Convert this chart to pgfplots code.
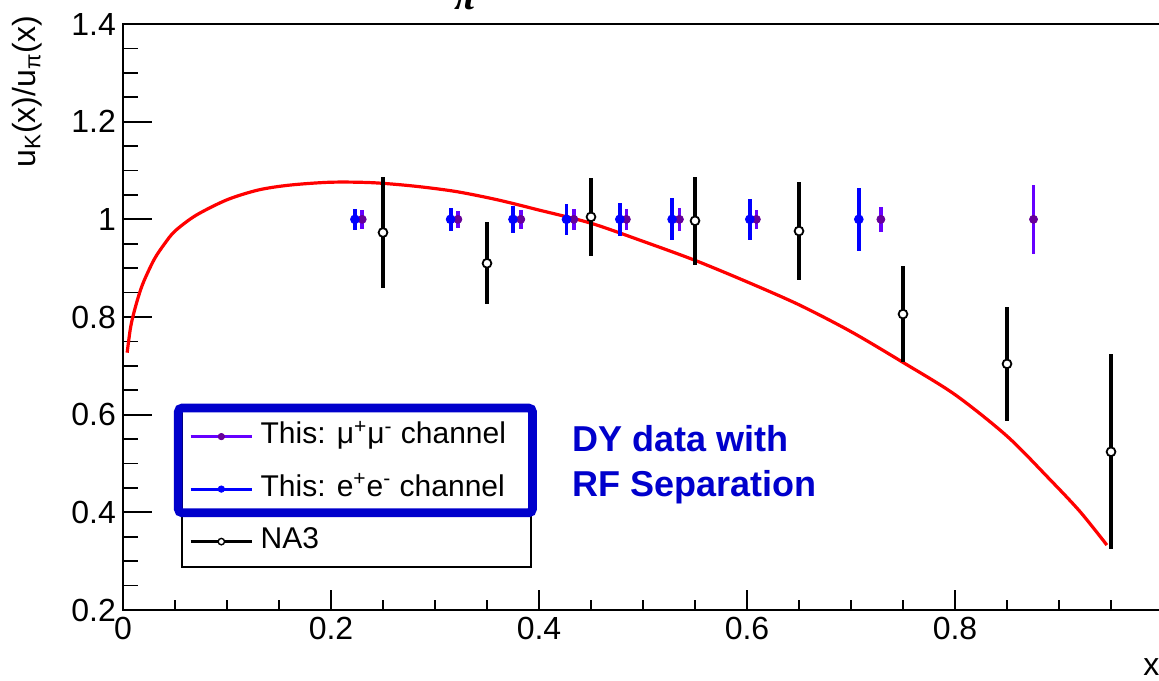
\documentclass[border=0pt]{standalone}
\usepackage{fontspec}
\setmainfont{Liberation Sans}
\newfontfamily\serifpi{Liberation Serif}
\usepackage{pgfplots}
\pgfplotsset{compat=1.18}
\usepackage{pgfplotstable}

\definecolor{redC}{RGB}{255,0,0}
\definecolor{blueC}{RGB}{0,0,255}
\definecolor{violetC}{RGB}{102,0,255}
\definecolor{purpleM}{RGB}{102,0,153}
\definecolor{frameBlue}{RGB}{0,0,204}

\pgfplotstableread{
x y ey
0.230 1.0 0.020
0.322 1.0 0.018
0.3825 1.0 0.020
0.4335 1.0 0.021
0.484 1.0 0.021
0.535 1.0 0.024
0.609 1.0 0.020
0.7287 1.0 0.026
0.8755 1.0 0.070
}\mmdata

\pgfplotstableread{
x y ey
0.223 1.0 0.022
0.315 1.0 0.024
0.375 1.0 0.028
0.4264 1.0 0.032
0.4777 1.0 0.034
0.528 1.0 0.043
0.6027 1.0 0.042
0.7075 1.0 0.064
}\eedata

\pgfplotstableread{
x y ey
0.25 0.973 0.113
0.35 0.910 0.084
0.45 1.005 0.080
0.55 0.997 0.090
0.65 0.976 0.100
0.75 0.806 0.099
0.85 0.704 0.117
0.95 0.524 0.200
}\nadata

\pgfplotsset{
  frame/.style={
    at={(0,0)}, anchor=south west,
    scale only axis, width=520pt, height=293pt,
    xmin=0, xmax=1, ymin=0.2, ymax=1.4,
    tick align=inside, tick pos=left,
    axis line style={line width=1pt},
    every tick/.style={black, line width=0.9pt},
    ticklabel style={font=\fontsize{16}{19}\selectfont},
    /pgf/number format/assume math mode=true,
  }
}

\begin{document}
\begin{tikzpicture}
% y ticks (longer) on an overlay frame
\begin{axis}[frame,
  xtick=\empty,
  ytick={0.2,0.4,0.6,0.8,1,1.2,1.4},
  minor y tick num=3,
  major tick length=14.5pt, minor tick length=7.25pt,
]
\end{axis}
\begin{axis}[frame,
  xtick={0,0.2,0.4,0.6,0.8},
  ytick=\empty,
  minor x tick num=3,
  extra x ticks={0.85,0.9,0.95,1}, extra x tick labels={},
  extra x tick style={major tick length=5pt},
  major tick length=10pt, minor tick length=5pt,
  legend cell align=left,
  legend style={draw=none, fill=none, at={(0.0564,0.3401)}, anchor=north west,
    inner xsep=3.35pt, inner ysep=3.25pt, row sep=7.25pt,
    font=\fontsize{15}{18}\selectfont,
    nodes={inner xsep=3.3pt, inner ysep=2pt, text height=11pt, text depth=4pt}},
]
\addplot[redC, line width=1.6pt, smooth, forget plot] coordinates {
(0.004,0.727) (0.007,0.775) (0.010,0.805) (0.015,0.843) (0.020,0.873)
(0.030,0.918) (0.040,0.950) (0.050,0.976) (0.070,1.008) (0.100,1.040)
(0.130,1.060) (0.160,1.070) (0.200,1.076) (0.240,1.075) (0.280,1.068)
(0.320,1.057) (0.360,1.040) (0.400,1.019) (0.450,0.992) (0.500,0.955)
(0.550,0.916) (0.600,0.872) (0.650,0.825) (0.700,0.770) (0.750,0.707)
(0.800,0.641) (0.850,0.556) (0.890,0.470) (0.920,0.402) (0.946,0.333)};

\addplot[only marks, mark=*, mark size=2pt, mark options={fill=purpleM, draw=purpleM},
  legend image code/.code={\draw[violetC, line width=1.6pt] (0pt,0pt) -- (30.85pt,0pt);
    \draw[only marks, mark=*, mark size=1.6pt, mark options={fill=purpleM, draw=purpleM}] plot coordinates {(15.4pt,0pt)};},
  error bars/.cd, y dir=both, y explicit, error mark=none,
  error bar style={violetC, line width=1.8pt}]
  table[x=x, y=y, y error=ey] {\mmdata};
\addlegendentry{This: μ\textsuperscript{+}μ\textsuperscript{-} channel}

\addplot[only marks, mark=*, mark size=2.2pt, mark options={fill=blueC, draw=blueC},
  legend image code/.code={\draw[blueC, line width=1.6pt] (0pt,0pt) -- (30.85pt,0pt);
    \draw[only marks, mark=*, mark size=1.6pt, mark options={fill=blueC, draw=blueC}] plot coordinates {(15.4pt,0pt)};},
  error bars/.cd, y dir=both, y explicit, error mark=none,
  error bar style={blueC, line width=1.9pt}]
  table[x=x, y=y, y error=ey] {\eedata};
\addlegendentry{This: e\textsuperscript{+}e\textsuperscript{-} channel}

\addplot[only marks, mark=*, mark size=2.2pt, mark options={fill=white, draw=black, line width=0.9pt},
  legend image code/.code={\draw[black, line width=1.8pt] (0pt,0pt) -- (30.85pt,0pt);
    \draw[only marks, mark=*, mark size=1.6pt, mark options={fill=white, draw=black, line width=0.7pt}] plot coordinates {(15.4pt,0pt)};},
  error bars/.cd, y dir=both, y explicit, error mark=none,
  error bar style={black, line width=2.2pt}]
  table[x=x, y=y, y error=ey] {\nadata};
\addlegendentry{NA3}
\end{axis}

\draw[black, line width=0.9pt] (29.35pt,21.65pt) rectangle (203.85pt,99.65pt);
\draw[frameBlue, line width=4.4pt, rounded corners=2pt] (27.65pt,48.6pt) rectangle (204.75pt,101pt);

\node[anchor=base west, inner sep=0pt, text=frameBlue, font=\fontsize{18}{21}\selectfont\bfseries] at (224.35pt,79.15pt) {DY data with};
\node[anchor=base west, inner sep=0pt, text=frameBlue, font=\fontsize{18}{21}\selectfont\bfseries] at (224.35pt,56.65pt) {RF Separation};

\node[rotate=90, anchor=west, inner sep=0pt, font=\fontsize{16}{19}\selectfont] at (-48pt,221pt) {u\textsubscript{K}(x)/u\textsubscript{π}(x)};
\node[anchor=base west, inner sep=0pt, font=\fontsize{16}{19}\selectfont] at (510pt,-32.5pt) {x};
\node[anchor=base, inner sep=0pt, font=\fontsize{20}{24}\selectfont\serifpi\bfseries\itshape] at (171pt,300pt) {π};

\pgfresetboundingbox
\path[use as bounding box] (-61.5pt,-35pt) rectangle (518pt,305pt);
\end{tikzpicture}
\end{document}
